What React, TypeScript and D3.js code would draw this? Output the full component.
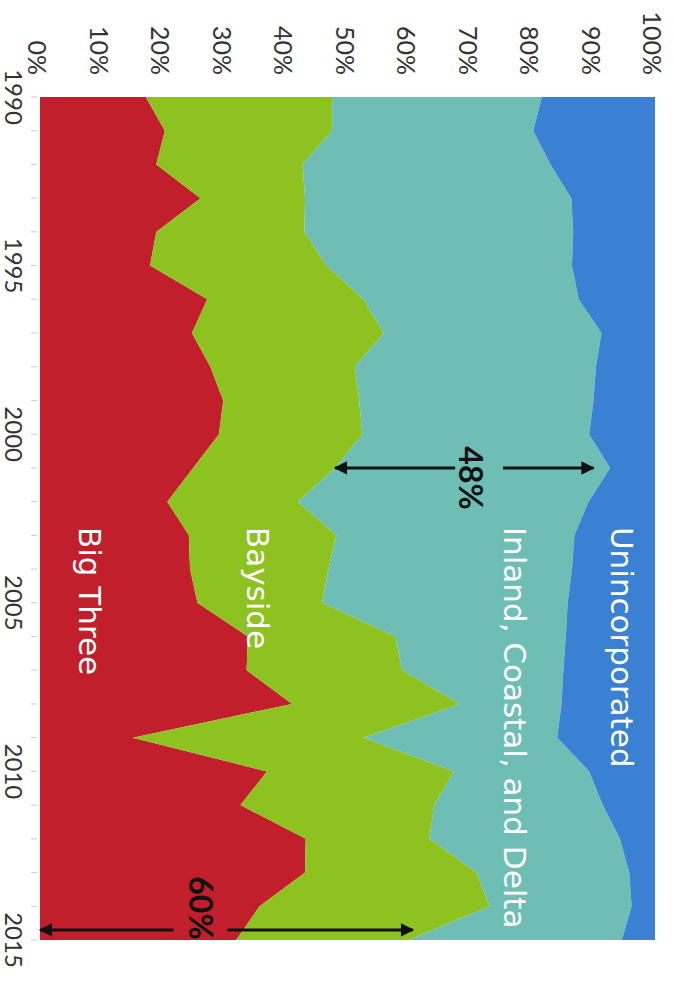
import React from 'react';
import * as d3 from 'd3';

const years = [1990,1991,1992,1993,1994,1995,1996,1997,1998,1999,2000,2001,2002,2003,2004,2005,2006,2007,2008,2009,2010,2011,2012,2013,2014,2015];
const bigThree = [17.2,20.3,18.9,26.1,18.9,17.9,27.2,24.7,27.7,29.8,29.1,24.9,20.7,24.2,24.4,25.6,33.8,33.6,41.0,15.1,36.9,32.6,43.2,43.1,35.7,31.9];
const bayside = [30.3,27.2,23.8,17.0,24.1,28.7,25.4,31.2,23.5,22.1,23.3,23.1,21.2,24.0,22.5,20.3,24.0,25.3,27.3,37.5,30.4,31.5,20.1,27.9,37.4,28.0];
const inland = [34.1,32.7,40.3,43.3,43.7,39.9,35.0,35.4,39.2,38.1,36.9,44.7,47.3,38.7,39.6,39.9,27.7,26.2,16.5,31.5,22.0,27.4,31.0,24.8,23.1,34.7];
const unincorporated = [18.4,19.8,17.0,13.6,13.3,13.5,12.4,8.7,9.6,10.0,10.7,7.3,10.8,13.1,13.5,14.2,14.5,14.9,15.2,15.9,10.7,8.5,5.7,4.2,3.8,5.4];

const seriesKeys = ['bigThree','bayside','inland','unincorporated'];
const seriesNames = ['Big Three','Bayside','Inland, Coastal, and Delta','Unincorporated'];
const seriesColors = ['#c01f2b','#8dc220','#6fbeb6','#3a80d3'];

const pctTicks = [0,10,20,30,40,50,60,70,80,90,100];
const yearLabels = [1990,1995,2000,2005,2010,2015];

// annotations in data units
const labelYear = 2002.75;
const labelPct = [8.1, 35.4, 77.2, 94.6];
const arrows = [
  { year: 2001, from: 48, to: 90, gapFrom: 67.5, gapTo: 75.3, text: '48%', textPct: 70.2, textYear: 2001.3 },
  { year: 2014.7, from: 0, to: 60.6, gapFrom: 21.7, gapTo: 30.5, text: '60%', textPct: 26.3, textYear: 2014.05 },
];

export default function App() {
  const W = 674, H = 990;
  const x = d3.scaleLinear().domain([0, 100]).range([40, 655]);
  const y = d3.scaleLinear().domain([1990, 2015]).range([97, 940]);

  const rows = years.map((yr, i) => ({
    year: yr, bigThree: bigThree[i], bayside: bayside[i], inland: inland[i], unincorporated: unincorporated[i],
  }));
  const stack = d3.stack<any>().keys(seriesKeys).offset(d3.stackOffsetExpand);
  const layers = stack(rows);
  const area = d3.area<any>()
    .y((d: any) => y(d.data.year))
    .x0((d: any) => x(d[0] * 100))
    .x1((d: any) => x(d[1] * 100))
    .curve(d3.curveLinear);

  const font = 'Lato, "Open Sans", sans-serif';
  const labelFont = '"DejaVu Sans", sans-serif';

  return (
    <svg width={W} height={H} style={{ position: 'absolute', left: 0, top: 0, background: '#fff' }}>
      <defs>
        <marker id="ah" viewBox="0 0 10 10" refX="9" refY="5" markerWidth="4.5" markerHeight="4.5" orient="auto-start-reverse" markerUnits="strokeWidth">
          <path d="M0,0 L10,5 L0,10 z" fill="#111" />
        </marker>
      </defs>
      {layers.map((l, i) => (
        <path key={i} d={area(l as any) || ''} fill={seriesColors[i]} />
      ))}
      {years.map((yr) => (
        <line key={yr} x1={31} x2={37} y1={y(yr)} y2={y(yr)} stroke="#c8c8c8" strokeWidth={1} />
      ))}
      {pctTicks.map((p) => (
        <text key={p} transform={`translate(${x(p) - 2},75) rotate(90)`} textAnchor="end" dominantBaseline="central"
          fontFamily={font} fontSize={25} fill="#333">{p}%</text>
      ))}
      {yearLabels.map((yr) => (
        <text key={yr} transform={`translate(14,${y(yr)}) rotate(90)`} textAnchor="middle" dominantBaseline="central"
          fontFamily={font} fontSize={24} fill="#333">{yr}</text>
      ))}
      {seriesNames.map((n, i) => (
        <text key={n} transform={`translate(${x(labelPct[i])},${y(labelYear)}) rotate(90)`} textAnchor="start" dominantBaseline="central"
          fontFamily={labelFont} fontSize={31} fill="#fff">{n}</text>
      ))}
      {arrows.map((a, i) => (
        <g key={i}>
          <line x1={x(a.gapFrom)} x2={x(a.from)} y1={y(a.year)} y2={y(a.year)} stroke="#111" strokeWidth={3} markerEnd="url(#ah)" />
          <line x1={x(a.gapTo)} x2={x(a.to)} y1={y(a.year)} y2={y(a.year)} stroke="#111" strokeWidth={3} markerEnd="url(#ah)" />
          <text transform={`translate(${x(a.textPct)},${y(a.textYear)}) rotate(90)`} textAnchor="middle" dominantBaseline="central"
            fontFamily={font} fontWeight="bold" fontSize={32} fill="#111">{a.text}</text>
        </g>
      ))}
    </svg>
  );
}
